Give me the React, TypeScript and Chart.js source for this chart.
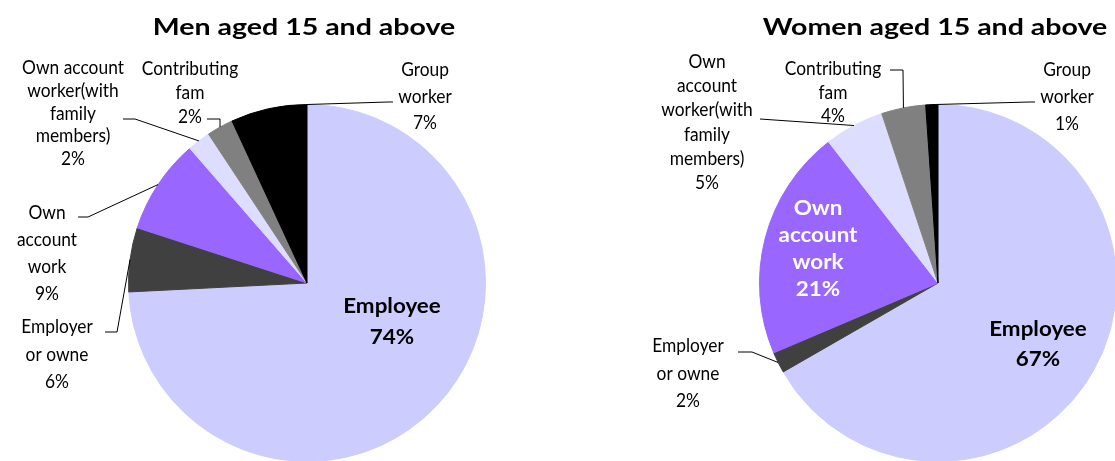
import React, { useEffect, useRef } from "react";
import { Chart, PieController, ArcElement } from "chart.js";

Chart.register(PieController, ArcElement);

// ---------------- data ----------------
const categories = [
  "Employee",
  "Employer or owne",
  "Own account work",
  "Own account worker(with family members)",
  "Contributing fam",
  "Group worker",
];
const menValues = [74.2, 5.8, 8.6, 2.1, 2.4, 6.9];
const womenValues = [66.7, 1.9, 20.9, 5.4, 4.0, 1.1];
const sliceColors = ["#CCCCFF", "#404040", "#9966FF", "#DDDDFF", "#808080", "#000000"];
const chartTitles = ["Men aged 15 and above", "Women aged 15 and above"];

// how each category name wraps inside its data label
const menLabelLines = [
  ["Employee"],
  ["Employer", "or owne"],
  ["Own", "account", "work"],
  ["Own account", "worker(with", "family", "members)"],
  ["Contributing", "fam"],
  ["Group", "worker"],
];
const womenLabelLines = [
  ["Employee"],
  ["Employer", "or owne"],
  ["Own", "account", "work"],
  ["Own", "account", "worker(with", "family", "members)"],
  ["Contributing", "fam"],
  ["Group", "worker"],
];

// ---------------- layout / style ----------------
const FONT = "Lato, 'Open Sans', sans-serif";
type TextStyle = { size: number; weight: string; sx: number };
const titleStyle: TextStyle = { size: 23, weight: "bold", sx: 1.24 };
const labelStyle: TextStyle = { size: 19.5, weight: "normal", sx: 0.89 };
const innerStyle: TextStyle = { size: 20, weight: "bold", sx: 1.12 };

type LabelLayout = {
  x: number;
  y: number;
  lh: number;
  bold?: boolean;
  color?: string;
  t?: number;
  path?: [number, number][];
};

const menLayout: LabelLayout[] = [
  { x: 392, y: 305, lh: 31, bold: true },
  { x: 57, y: 326, lh: 27.5, t: 0.5, path: [[105, 332], [117, 332]] },
  { x: 47, y: 212, lh: 27, t: 0.5, path: [[78, 217], [88, 217]] },
  { x: 73, y: 67, lh: 22.8, t: 0.5, path: [[123, 119], [135, 119]] },
  { x: 190, y: 68, lh: 24, t: 0.5, path: [[207, 119], [220, 119]] },
  { x: 425, y: 69, lh: 26.5, t: 1, path: [[393, 102], [388, 102]] },
];
const womenLayout: LabelLayout[] = [
  { x: 1038, y: 328, lh: 30, bold: true },
  { x: 688, y: 345, lh: 27.5, t: 0.5, path: [[738, 352], [752, 352]] },
  { x: 818, y: 207, lh: 27.3, bold: true, color: "#FFFFFF" },
  { x: 707, y: 61, lh: 24.2, t: 0.5, path: [[760, 119]] },
  { x: 833, y: 68, lh: 23.5, t: 0.5, path: [[890, 70], [903, 70]] },
  { x: 1067, y: 69, lh: 27, t: 0.5, path: [[1035, 102], [1030, 102]] },
];

const CANVAS_W = 1140;
const CANVAS_H = 470;

type PieCfg = {
  values: number[];
  title: string;
  titleX: number;
  titleY: number;
  lines: string[][];
  layout: LabelLayout[];
  area: { left: number; top: number; right: number; bottom: number };
};

const pies: PieCfg[] = [
  {
    values: menValues,
    title: chartTitles[0],
    titleX: 304,
    titleY: 26,
    lines: menLabelLines,
    layout: menLayout,
    area: { left: 128, top: 104, right: 486, bottom: 462 },
  },
  {
    values: womenValues,
    title: chartTitles[1],
    titleX: 935,
    titleY: 26,
    lines: womenLabelLines,
    layout: womenLayout,
    area: { left: 759, top: 104, right: 1117, bottom: 462 },
  },
];

function drawText(ctx: CanvasRenderingContext2D, text: string, cx: number, cy: number, st: TextStyle, color: string) {
  ctx.save();
  ctx.font = `${st.weight} ${st.size}px ${FONT}`;
  const cap = ctx.measureText("H").actualBoundingBoxAscent;
  ctx.translate(cx, cy + cap / 2);
  ctx.scale(st.sx, 1);
  ctx.textAlign = "center";
  ctx.textBaseline = "alphabetic";
  ctx.fillStyle = color;
  ctx.fillText(text, 0, 0);
  ctx.restore();
}

function makeLabelPlugin(cfg: PieCfg) {
  return {
    id: "pieLabels",
    afterDraw(chart: any) {
      const ctx: CanvasRenderingContext2D = chart.ctx;
      const meta = chart.getDatasetMeta(0);
      const values = chart.data.datasets[0].data as number[];
      drawText(ctx, cfg.title, cfg.titleX, cfg.titleY, titleStyle, "#000000");
      meta.data.forEach((arc: any, i: number) => {
        const lay = cfg.layout[i];
        if (lay.path) {
          const p = arc.getProps(["x", "y", "startAngle", "endAngle", "outerRadius"], true);
          const a = p.startAngle + (lay.t ?? 0.5) * (p.endAngle - p.startAngle);
          ctx.save();
          ctx.strokeStyle = "#000000";
          ctx.lineWidth = 1;
          ctx.beginPath();
          ctx.moveTo(lay.path[0][0], lay.path[0][1]);
          for (let k = 1; k < lay.path.length; k++) ctx.lineTo(lay.path[k][0], lay.path[k][1]);
          ctx.lineTo(p.x + p.outerRadius * Math.cos(a), p.y + p.outerRadius * Math.sin(a));
          ctx.stroke();
          ctx.restore();
        }
        const lines = [...cfg.lines[i], `${Math.round(values[i])}%`];
        lines.forEach((ln, k) =>
          drawText(ctx, ln, lay.x, lay.y + k * lay.lh, lay.bold ? innerStyle : labelStyle, lay.color || "#000000")
        );
      });
    },
  };
}

function PieCanvas({ cfg }: { cfg: PieCfg }) {
  const ref = useRef<HTMLCanvasElement | null>(null);
  useEffect(() => {
    if (!ref.current) return;
    const chart = new Chart(ref.current, {
      type: "pie",
      data: {
        labels: categories,
        datasets: [
          {
            data: cfg.values,
            backgroundColor: sliceColors,
            borderColor: sliceColors,
            borderWidth: 1,
          },
        ],
      },
      options: {
        responsive: false,
        animation: false,
        events: [],
        layout: {
          padding: {
            left: cfg.area.left,
            top: cfg.area.top,
            right: CANVAS_W - cfg.area.right,
            bottom: CANVAS_H - cfg.area.bottom,
          },
        },
      },
      plugins: [makeLabelPlugin(cfg)],
    } as any);
    let alive = true;
    if ((document as any).fonts) {
      Promise.all([
        (document as any).fonts.load(`bold 23px Lato`),
        (document as any).fonts.load(`19px Lato`),
      ]).then(() => {
        if (alive) chart.draw();
      }).catch(() => {});
    }
    return () => {
      alive = false;
      chart.destroy();
    };
  }, [cfg]);
  return (
    <canvas
      ref={ref}
      width={CANVAS_W}
      height={CANVAS_H}
      style={{ position: "absolute", left: 0, top: 0, width: CANVAS_W, height: CANVAS_H }}
    />
  );
}

export default function App() {
  return (
    <div
      style={{
        position: "fixed",
        left: 0,
        top: 0,
        width: 1115,
        height: 461,
        overflow: "hidden",
        background: "#FFFFFF",
      }}
    >
      {pies.map((p, i) => (
        <PieCanvas key={i} cfg={p} />
      ))}
    </div>
  );
}
